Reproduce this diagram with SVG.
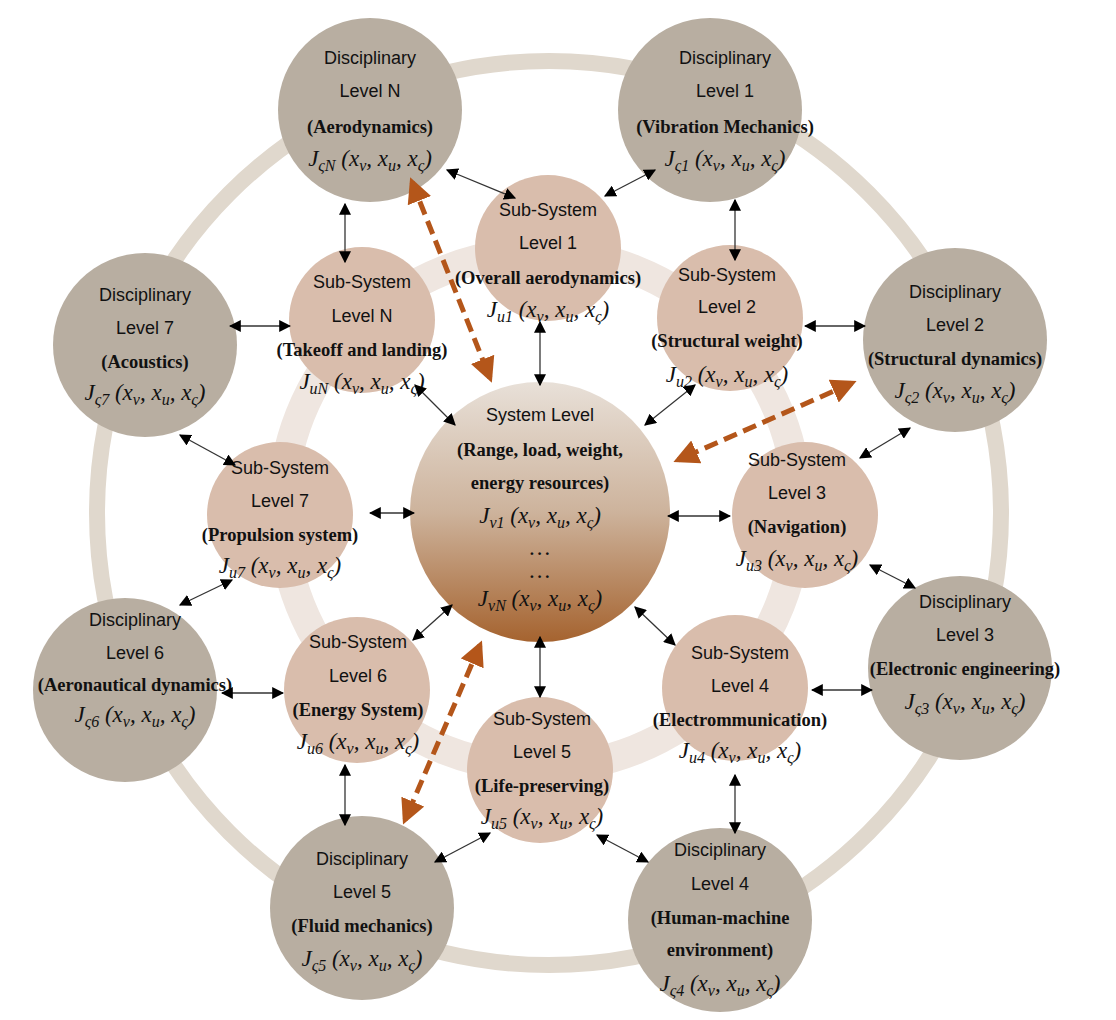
<svg xmlns="http://www.w3.org/2000/svg" width="1116" height="1020" viewBox="0 0 1116 1020">
<defs>
<linearGradient id="sg" x1="0" y1="0" x2="0" y2="1"><stop offset="0" stop-color="#e8e0d8"/><stop offset="0.5" stop-color="#cdb39c"/><stop offset="1" stop-color="#a5632f"/></linearGradient>
<marker id="a" viewBox="0 0 10 10" refX="9" refY="5" markerWidth="12" markerHeight="12" markerUnits="userSpaceOnUse" orient="auto-start-reverse"><path d="M0,0L10,5L0,10z" fill="#000"/></marker>
<marker id="o" viewBox="0 0 10 10" refX="8" refY="5" markerWidth="5" markerHeight="5" orient="auto-start-reverse"><path d="M0,0L10,5L0,10z" fill="#b4561a"/></marker>
<style>
.d{fill:#b8aea1}.s{fill:#d9bdac}
.t{font-family:"Liberation Sans",Arial,sans-serif;font-size:18px;text-anchor:middle;fill:#111}
.b{font-family:"Liberation Serif","Times New Roman",serif;font-size:18.5px;font-weight:bold;text-anchor:middle;fill:#111}
.j{font-family:"Liberation Serif","Times New Roman",serif;font-size:23px;font-style:italic;text-anchor:middle;fill:#111}
.j .u{font-size:16px}
.c line{stroke:#333;stroke-width:1.3;marker-start:url(#a);marker-end:url(#a)}
.or line{stroke:#b4561a;stroke-width:5;stroke-dasharray:14 7;marker-start:url(#o);marker-end:url(#o)}
</style>
</defs>
<rect width="1116" height="1020" fill="#fff"/>
<circle cx="549" cy="513" r="452" fill="none" stroke="#e0d8cd" stroke-width="16"/>
<circle cx="540" cy="510" r="258" fill="none" stroke="#efe6e0" stroke-width="30"/>
<g id="sys"><circle cx="540" cy="512" r="130" fill="url(#sg)"/>
<text class="t" x="540" y="421">System Level</text>
<text class="b" x="540" y="456">(Range, load, weight,</text>
<text class="b" x="540" y="489">energy resources)</text>
<text class="j" x="540" y="523">J<tspan class="u" dy="5">v1</tspan><tspan dy="-5"> (x</tspan><tspan class="u" dy="5">v</tspan><tspan dy="-5">, x</tspan><tspan class="u" dy="5">u</tspan><tspan dy="-5">, x</tspan><tspan class="u" dy="5">ς</tspan><tspan dy="-5">)</tspan></text>
<text class="j" x="540" y="555">…</text>
<text class="j" x="540" y="578">…</text>
<text class="j" x="540" y="606">J<tspan class="u" dy="5">vN</tspan><tspan dy="-5"> (x</tspan><tspan class="u" dy="5">v</tspan><tspan dy="-5">, x</tspan><tspan class="u" dy="5">u</tspan><tspan dy="-5">, x</tspan><tspan class="u" dy="5">ς</tspan><tspan dy="-5">)</tspan></text>
</g>
<g id="dN"><circle class="d" cx="370" cy="110" r="92"/><text class="t" x="370" y="64">Disciplinary</text><text class="t" x="370" y="97">Level N</text><text class="b" x="370" y="133">(Aerodynamics)</text><text class="j" x="370" y="166">J<tspan class="u" dy="5">ςN</tspan><tspan dy="-5"> (x</tspan><tspan class="u" dy="5">v</tspan><tspan dy="-5">, x</tspan><tspan class="u" dy="5">u</tspan><tspan dy="-5">, x</tspan><tspan class="u" dy="5">ς</tspan><tspan dy="-5">)</tspan></text></g>
<g id="d1"><circle class="d" cx="710" cy="110" r="92"/><text class="t" x="725" y="64">Disciplinary</text><text class="t" x="725" y="97">Level 1</text><text class="b" x="725" y="133">(Vibration Mechanics)</text><text class="j" x="725" y="166">J<tspan class="u" dy="5">ς1</tspan><tspan dy="-5"> (x</tspan><tspan class="u" dy="5">v</tspan><tspan dy="-5">, x</tspan><tspan class="u" dy="5">u</tspan><tspan dy="-5">, x</tspan><tspan class="u" dy="5">ς</tspan><tspan dy="-5">)</tspan></text></g>
<g id="d2"><circle class="d" cx="955" cy="340" r="92"/><text class="t" x="955" y="298">Disciplinary</text><text class="t" x="955" y="331">Level 2</text><text class="b" x="955" y="365">(Structural dynamics)</text><text class="j" x="955" y="398">J<tspan class="u" dy="5">ς2</tspan><tspan dy="-5"> (x</tspan><tspan class="u" dy="5">v</tspan><tspan dy="-5">, x</tspan><tspan class="u" dy="5">u</tspan><tspan dy="-5">, x</tspan><tspan class="u" dy="5">ς</tspan><tspan dy="-5">)</tspan></text></g>
<g id="d3"><circle class="d" cx="960" cy="668" r="92"/><text class="t" x="965" y="608">Disciplinary</text><text class="t" x="965" y="641">Level 3</text><text class="b" x="965" y="675">(Electronic engineering)</text><text class="j" x="965" y="709">J<tspan class="u" dy="5">ς3</tspan><tspan dy="-5"> (x</tspan><tspan class="u" dy="5">v</tspan><tspan dy="-5">, x</tspan><tspan class="u" dy="5">u</tspan><tspan dy="-5">, x</tspan><tspan class="u" dy="5">ς</tspan><tspan dy="-5">)</tspan></text></g>
<g id="d4"><circle class="d" cx="720" cy="920" r="92"/><text class="t" x="720" y="856">Disciplinary</text><text class="t" x="720" y="890">Level 4</text><text class="b" x="720" y="924">(Human-machine</text><text class="b" x="720" y="956">environment)</text><text class="j" x="720" y="991">J<tspan class="u" dy="5">ς4</tspan><tspan dy="-5"> (x</tspan><tspan class="u" dy="5">v</tspan><tspan dy="-5">, x</tspan><tspan class="u" dy="5">u</tspan><tspan dy="-5">, x</tspan><tspan class="u" dy="5">ς</tspan><tspan dy="-5">)</tspan></text></g>
<g id="d5"><circle class="d" cx="362" cy="908" r="92"/><text class="t" x="362" y="865">Disciplinary</text><text class="t" x="362" y="898">Level 5</text><text class="b" x="362" y="932">(Fluid mechanics)</text><text class="j" x="362" y="966">J<tspan class="u" dy="5">ς5</tspan><tspan dy="-5"> (x</tspan><tspan class="u" dy="5">v</tspan><tspan dy="-5">, x</tspan><tspan class="u" dy="5">u</tspan><tspan dy="-5">, x</tspan><tspan class="u" dy="5">ς</tspan><tspan dy="-5">)</tspan></text></g>
<g id="d6"><circle class="d" cx="125" cy="690" r="92"/><text class="t" x="135" y="626">Disciplinary</text><text class="t" x="135" y="659">Level 6</text><text class="b" x="135" y="691">(Aeronautical dynamics)</text><text class="j" x="135" y="722">J<tspan class="u" dy="5">ς6</tspan><tspan dy="-5"> (x</tspan><tspan class="u" dy="5">v</tspan><tspan dy="-5">, x</tspan><tspan class="u" dy="5">u</tspan><tspan dy="-5">, x</tspan><tspan class="u" dy="5">ς</tspan><tspan dy="-5">)</tspan></text></g>
<g id="d7"><circle class="d" cx="145" cy="345" r="92"/><text class="t" x="145" y="301">Disciplinary</text><text class="t" x="145" y="334">Level 7</text><text class="b" x="145" y="368">(Acoustics)</text><text class="j" x="145" y="400">J<tspan class="u" dy="5">ς7</tspan><tspan dy="-5"> (x</tspan><tspan class="u" dy="5">v</tspan><tspan dy="-5">, x</tspan><tspan class="u" dy="5">u</tspan><tspan dy="-5">, x</tspan><tspan class="u" dy="5">ς</tspan><tspan dy="-5">)</tspan></text></g>
<g id="s1"><circle class="s" cx="548" cy="248" r="73"/><text class="t" x="548" y="216">Sub-System</text><text class="t" x="548" y="249">Level 1</text><text class="b" x="548" y="284">(Overall aerodynamics)</text><text class="j" x="548" y="317">J<tspan class="u" dy="5">u1</tspan><tspan dy="-5"> (x</tspan><tspan class="u" dy="5">v</tspan><tspan dy="-5">, x</tspan><tspan class="u" dy="5">u</tspan><tspan dy="-5">, x</tspan><tspan class="u" dy="5">ς</tspan><tspan dy="-5">)</tspan></text></g>
<g id="sN"><circle class="s" cx="362" cy="320" r="73"/><text class="t" x="362" y="288">Sub-System</text><text class="t" x="362" y="322">Level N</text><text class="b" x="362" y="356">(Takeoff and landing)</text><text class="j" x="362" y="389">J<tspan class="u" dy="5">uN</tspan><tspan dy="-5"> (x</tspan><tspan class="u" dy="5">v</tspan><tspan dy="-5">, x</tspan><tspan class="u" dy="5">u</tspan><tspan dy="-5">, x</tspan><tspan class="u" dy="5">ς</tspan><tspan dy="-5">)</tspan></text></g>
<g id="s2"><circle class="s" cx="730" cy="318" r="73"/><text class="t" x="727" y="281">Sub-System</text><text class="t" x="727" y="313">Level 2</text><text class="b" x="727" y="347">(Structural weight)</text><text class="j" x="727" y="382">J<tspan class="u" dy="5">u2</tspan><tspan dy="-5"> (x</tspan><tspan class="u" dy="5">v</tspan><tspan dy="-5">, x</tspan><tspan class="u" dy="5">u</tspan><tspan dy="-5">, x</tspan><tspan class="u" dy="5">ς</tspan><tspan dy="-5">)</tspan></text></g>
<g id="s7"><circle class="s" cx="280" cy="515" r="73"/><text class="t" x="280" y="474">Sub-System</text><text class="t" x="280" y="507">Level 7</text><text class="b" x="280" y="541">(Propulsion system)</text><text class="j" x="280" y="573">J<tspan class="u" dy="5">u7</tspan><tspan dy="-5"> (x</tspan><tspan class="u" dy="5">v</tspan><tspan dy="-5">, x</tspan><tspan class="u" dy="5">u</tspan><tspan dy="-5">, x</tspan><tspan class="u" dy="5">ς</tspan><tspan dy="-5">)</tspan></text></g>
<g id="s3"><circle class="s" cx="805" cy="515" r="73"/><text class="t" x="797" y="466">Sub-System</text><text class="t" x="797" y="499">Level 3</text><text class="b" x="797" y="533">(Navigation)</text><text class="j" x="797" y="566">J<tspan class="u" dy="5">u3</tspan><tspan dy="-5"> (x</tspan><tspan class="u" dy="5">v</tspan><tspan dy="-5">, x</tspan><tspan class="u" dy="5">u</tspan><tspan dy="-5">, x</tspan><tspan class="u" dy="5">ς</tspan><tspan dy="-5">)</tspan></text></g>
<g id="s6"><circle class="s" cx="357" cy="690" r="73"/><text class="t" x="358" y="648">Sub-System</text><text class="t" x="358" y="682">Level 6</text><text class="b" x="358" y="716">(Energy System)</text><text class="j" x="358" y="749">J<tspan class="u" dy="5">u6</tspan><tspan dy="-5"> (x</tspan><tspan class="u" dy="5">v</tspan><tspan dy="-5">, x</tspan><tspan class="u" dy="5">u</tspan><tspan dy="-5">, x</tspan><tspan class="u" dy="5">ς</tspan><tspan dy="-5">)</tspan></text></g>
<g id="s4"><circle class="s" cx="735" cy="688" r="73"/><text class="t" x="740" y="659">Sub-System</text><text class="t" x="740" y="692">Level 4</text><text class="b" x="740" y="726">(Electrommunication)</text><text class="j" x="740" y="758">J<tspan class="u" dy="5">u4</tspan><tspan dy="-5"> (x</tspan><tspan class="u" dy="5">v</tspan><tspan dy="-5">, x</tspan><tspan class="u" dy="5">u</tspan><tspan dy="-5">, x</tspan><tspan class="u" dy="5">ς</tspan><tspan dy="-5">)</tspan></text></g>
<g id="s5"><circle class="s" cx="540" cy="770" r="73"/><text class="t" x="542" y="725">Sub-System</text><text class="t" x="542" y="758">Level 5</text><text class="b" x="542" y="792">(Life-preserving)</text><text class="j" x="542" y="824">J<tspan class="u" dy="5">u5</tspan><tspan dy="-5"> (x</tspan><tspan class="u" dy="5">v</tspan><tspan dy="-5">, x</tspan><tspan class="u" dy="5">u</tspan><tspan dy="-5">, x</tspan><tspan class="u" dy="5">ς</tspan><tspan dy="-5">)</tspan></text></g>
<g id="connectors" class="c">
<line x1="447" y1="170" x2="515" y2="198"/>
<line x1="655" y1="170" x2="605" y2="196"/>
<line x1="345" y1="204" x2="345" y2="262"/>
<line x1="735" y1="200" x2="735" y2="260"/>
<line x1="540" y1="322" x2="540" y2="385"/>
<line x1="415" y1="385" x2="455" y2="425"/>
<line x1="695" y1="385" x2="645" y2="425"/>
<line x1="230" y1="326" x2="290" y2="326"/>
<line x1="805" y1="326" x2="865" y2="326"/>
<line x1="180" y1="435" x2="235" y2="465"/>
<line x1="370" y1="513" x2="414" y2="513"/>
<line x1="668" y1="516" x2="730" y2="516"/>
<line x1="910" y1="428" x2="860" y2="458"/>
<line x1="232" y1="580" x2="180" y2="605"/>
<line x1="870" y1="565" x2="915" y2="588"/>
<line x1="413" y1="640" x2="452" y2="605"/>
<line x1="635" y1="607" x2="675" y2="645"/>
<line x1="222" y1="693" x2="283" y2="693"/>
<line x1="812" y1="690" x2="872" y2="690"/>
<line x1="540" y1="637" x2="540" y2="697"/>
<line x1="345" y1="765" x2="345" y2="825"/>
<line x1="735" y1="775" x2="735" y2="833"/>
<line x1="490" y1="833" x2="435" y2="862"/>
<line x1="597" y1="835" x2="648" y2="862"/>
</g>
<g class="or">
<line x1="412" y1="182" x2="490" y2="378"/>
<line x1="852" y1="383" x2="678" y2="460"/>
<line x1="480" y1="645" x2="405" y2="820"/>
</g>
</svg>
